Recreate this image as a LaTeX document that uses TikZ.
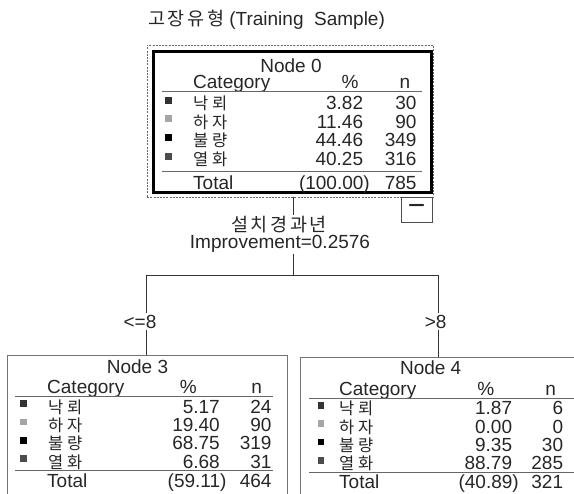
\documentclass[tikz,border=0pt]{standalone}
\usepackage{fontspec}
\setmainfont{Liberation Sans}
\newfontfamily\kr[LetterSpace=14]{Noto Sans CJK KR}
\newfontfamily\krw[LetterSpace=22]{Noto Sans CJK KR}
\usetikzlibrary{backgrounds}
\begin{document}
\begin{tikzpicture}[x=1pt,y=-1pt,
  font=\fontsize{19}{21}\selectfont,
  every node/.style={inner sep=0pt, text=black!85},
  frame/.style={draw=black!55, line width=0.8pt, fill=none, anchor=north west},
  conn/.style={draw=black!80, line width=0.7pt},
  rule/.style={draw=black!60, line width=0.8pt},
  sw/.style={inner sep=0pt, minimum size=6.7pt, anchor=north west},
  lbl/.style={fill=white, inner sep=1.5pt},
  krs/.style={font=\fontsize{18.5}{21}\selectfont\kr},
  krr/.style={font=\fontsize{16.5}{19}\selectfont\krw}
]
\definecolor{c1}{gray}{0.2}
\definecolor{c2}{gray}{0.65}
\definecolor{c3}{gray}{0.0}
\definecolor{c4}{gray}{0.3}
\useasboundingbox (0,0) rectangle (574,494);

% title
\node[anchor=base west] (title) at (148,25.5) {{\kr\fontsize{18.5}{21}\selectfont 고장유형} (Training\ \ Sample)};

% ---------- Node 0 ----------
\node[frame, draw=black!60, dash pattern=on 2pt off 1.2pt, minimum width=286.3pt, minimum height=151.7pt] (n0frame) at (146.7,45) {};
\node[frame, draw=black, line width=3pt, minimum width=278.5pt, minimum height=141.5pt] (n0) at (151.5,50) {};
\node[anchor=base] (n0t) at (291,72.5) {Node 0};
\node[anchor=base west] (n0c) at (193,89) {Category};
\node[anchor=base] (n0ph) at (350,89) {\%};
\node[anchor=base] (n0nh) at (405,89) {n};
\draw[rule] (162,91.7) -- (422,91.7);
\foreach \i/\b/\lab/\pct/\n in {1/110/낙뢰/3.82/30, 2/128.5/하자/11.46/90, 3/147/불량/44.46/349, 4/166/열화/40.25/316} {
  \node[sw, fill=c\i] (n0s\i) at (165,\b-13.3) {};
  \node[anchor=base west, krr] (n0k\i) at (193,\b) {\lab};
  \node[anchor=base east] (n0p\i) at (363.3,\b) {\pct};
  \node[anchor=base east] (n0n\i) at (416.7,\b) {\n};
}
\draw[rule] (162,171.7) -- (422,171.7);
\node[anchor=base west] (n0tot) at (193,189.5) {Total};
\node[anchor=base east] (n0totp) at (370,189.5) {(100.00)};
\node[anchor=base east] (n0totn) at (416.7,189.5) {785};

% collapse button
\node[frame, draw=black!70, minimum width=31.3pt, minimum height=25pt] (minus) at (400.7,196.7) {};
\node (minussign) at (minus.center) {\fontsize{30}{30}\selectfont −};

% split label
\node[anchor=base, lbl, krs] (imp1) at (279,232) {설치경과년};
\node[anchor=base, lbl] (imp2) at (280,248.3) {Improvement=0.2576};

\coordinate (split) at (293.3,275);
\coordinate (lefts) at (146,275);
\coordinate (rights) at (438.3,275);

% ---------- Node 3 ----------
\node[frame, minimum width=280.6pt, minimum height=160pt] (n3) at (6.7,355) {};
\node[anchor=base] (n3t) at (137.5,373.3) {Node 3};
\node[anchor=base west] (n3c) at (47,394) {Category};
\node[anchor=base] (n3ph) at (188.3,394) {\%};
\node[anchor=base] (n3nh) at (256.7,394) {n};
\draw[rule] (15,396.7) -- (273,396.7);
\foreach \i/\b/\lab/\pct/\n in {1/413.3/낙뢰/5.17/24, 2/431.7/하자/19.40/90, 3/450/불량/68.75/319, 4/468.3/열화/6.68/31} {
  \node[sw, fill=c\i] (n3s\i) at (20,\b-13.3) {};
  \node[anchor=base west, krr] (n3k\i) at (48,\b) {\lab};
  \node[anchor=base east] (n3p\i) at (220,\b) {\pct};
  \node[anchor=base east] (n3n\i) at (271.7,\b) {\n};
}
\draw[rule] (15,470.5) -- (273,470.5);
\node[anchor=base west] (n3tot) at (47,487.5) {Total};
\node[anchor=base east] (n3totp) at (226.7,487.5) {(59.11)};
\node[anchor=base east] (n3totn) at (271.7,487.5) {464};

% ---------- Node 4 ----------
\node[frame, minimum width=290pt, minimum height=160pt] (n4) at (300,357) {};
\node[anchor=base] (n4t) at (430.7,375) {Node 4};
\node[anchor=base west] (n4c) at (339,395.5) {Category};
\node[anchor=base] (n4ph) at (485.7,395.5) {\%};
\node[anchor=base] (n4nh) at (550.7,395.5) {n};
\draw[rule] (309,398.3) -- (580,398.3);
\foreach \i/\b/\lab/\pct/\n in {1/415/낙뢰/1.87/6, 2/433.3/하자/0.00/0, 3/451.7/불량/9.35/30, 4/470/열화/88.79/285} {
  \node[sw, fill=c\i] (n4s\i) at (317.3,\b-13.3) {};
  \node[anchor=base west, krr] (n4k\i) at (339,\b) {\lab};
  \node[anchor=base east] (n4p\i) at (512.3,\b) {\pct};
  \node[anchor=base east] (n4n\i) at (563.3,\b) {\n};
}
\draw[rule] (309,472) -- (580,472);
\node[anchor=base west] (n4tot) at (339,489) {Total};
\node[anchor=base east] (n4totp) at (519,489) {(40.89)};
\node[anchor=base east] (n4totn) at (563.3,489) {321};

% branch labels
\node[lbl] (le) at (140,321.7) {<=8};
\node[lbl] (gt) at (435.7,321.7) {>8};

% connectors
\begin{scope}[on background layer]
  \draw[conn] (n0frame.south -| split) -- (split);
  \draw[conn] (lefts) -- (rights);
  \draw[conn] (lefts) -- (lefts |- n3.north);
  \draw[conn] (rights) -- (rights |- n4.north);
\end{scope}
\end{tikzpicture}
\end{document}
